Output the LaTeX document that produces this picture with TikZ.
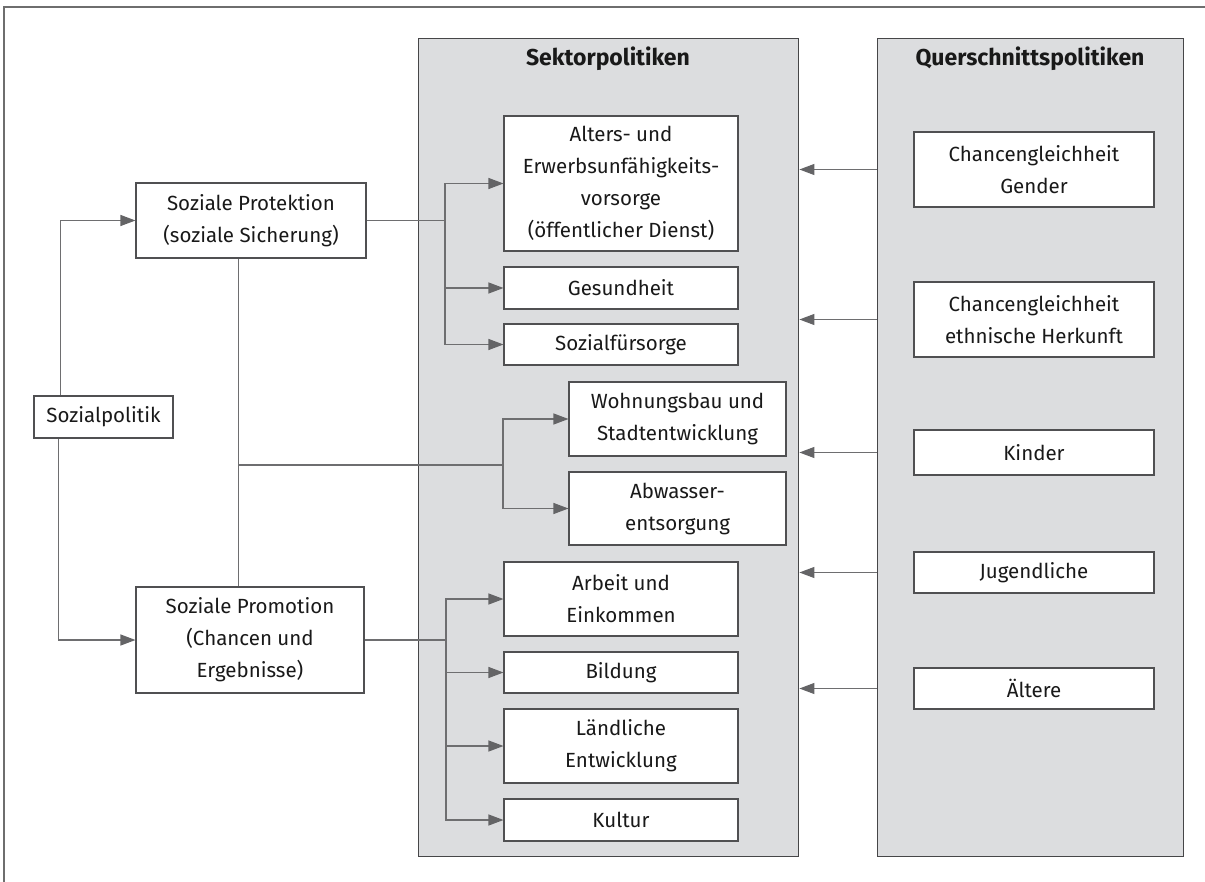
\documentclass[tikz,border=0pt]{standalone}
\usepackage{fontspec}
\setmainfont{Fira Sans}
\usetikzlibrary{arrows.meta}
\definecolor{panelf}{RGB}{220,221,223}
\definecolor{panelb}{RGB}{70,70,72}
\definecolor{boxc}{RGB}{80,80,82}
\definecolor{linec}{RGB}{110,110,112}
\definecolor{arrc}{RGB}{100,100,102}
\definecolor{txt}{RGB}{25,25,25}
\definecolor{framec}{RGB}{110,110,110}
\begin{document}
\begin{tikzpicture}[x=1pt,y=-1pt,
  box/.style={draw=boxc, fill=white, line width=1.1pt, align=center, inner sep=0pt,
    font=\fontsize{20.5}{32}\selectfont, text=txt},
  panel/.style={draw=panelb, fill=panelf, line width=1.4pt, inner sep=0pt, anchor=north west},
  ttl/.style={font=\bfseries\fontsize{23}{26}\selectfont, text=txt},
  conn/.style={draw=linec, line width=1.1pt},
  arr/.style={conn, -{Triangle[length=15pt,width=11pt,color=arrc]}}
]
\useasboundingbox (0,0) rectangle (1205,882);
\draw[framec, line width=1.2pt] (4,882) -- (4,7) -- (1205,7);

% panels
\node[panel, minimum width=380pt, minimum height=818pt] (sek) at (418,38) {};
\node[panel, minimum width=306pt, minimum height=818pt] (que) at (877,38) {};
\node[ttl] (sekt) at (608,59) {Sektorpolitiken};
\node[ttl] (quet) at (1030,59) {Querschnittspolitiken};

% sector boxes
\node[box, minimum width=234pt, minimum height=135pt] (alt) at (621,183.5) {Alters- und\\Erwerbsunfähigkeits-\\vorsorge\\(öffentlicher Dienst)};
\node[box, minimum width=234pt, minimum height=42pt] (ges) at (621,288) {Gesundheit};
\node[box, minimum width=234pt, minimum height=41pt] (soz) at (621,344.5) {Sozialfürsorge};
\node[box, minimum width=217pt, minimum height=74pt] (woh) at (677.5,419) {Wohnungsbau und\\Stadtentwicklung};
\node[box, minimum width=217pt, minimum height=73pt] (abw) at (677.5,508.5) {Abwasser-\\entsorgung};
\node[box, minimum width=234pt, minimum height=74pt] (arb) at (621,599) {Arbeit und\\Einkommen};
\node[box, minimum width=234pt, minimum height=41pt] (bil) at (621,672.5) {Bildung};
\node[box, minimum width=234pt, minimum height=74pt] (lae) at (621,746) {Ländliche\\Entwicklung};
\node[box, minimum width=234pt, minimum height=42pt] (kul) at (621,820) {Kultur};

% cross-cutting boxes
\node[box, minimum width=240pt, minimum height=75pt] (gen) at (1034,169.5) {Chancengleichheit\\Gender};
\node[box, minimum width=240pt, minimum height=75pt] (eth) at (1034,319.5) {Chancengleichheit\\ethnische Herkunft};
\node[box, minimum width=240pt, minimum height=45pt] (kin) at (1034,452.5) {Kinder};
\node[box, minimum width=240pt, minimum height=41pt] (jug) at (1034,572.5) {Jugendliche};
\node[box, minimum width=240pt, minimum height=41pt] (ael) at (1034,688.5) {Ältere};

% left boxes
\node[box, minimum width=139pt, minimum height=42pt] (sp) at (103.5,417) {Sozialpolitik};
\node[box, minimum width=230pt, minimum height=75pt] (pro) at (251,220.5) {Soziale Protektion\\(soziale Sicherung)};
\node[box, minimum width=228pt, minimum height=106pt] (prm) at (250,640) {Soziale Promotion\\(Chancen und\\Ergebnisse)};

% cross arrows
\foreach \n in {gen,eth,kin,jug,ael}
  \draw[arr] (que.west |- \n) -- (sek.east |- \n);

% Sozialpolitik to two branches
\draw[arr] ([xshift=27pt]sp.north west) |- (pro.west);
\draw[arr] ([xshift=25pt]sp.south west) |- (prm.west);

% vertical between Protektion and Promotion
\coordinate (vtop) at ([xshift=103pt]pro.south west);
\draw[conn] (vtop) -- (vtop |- prm.north);
\coordinate (j2) at (503,465);
\draw[conn] (vtop |- j2) -- (j2);
\draw[arr] (j2) |- (woh.west);
\draw[arr] (j2) |- (abw.west);

% Protektion branch
\coordinate (j1) at (445,220.5);
\draw[conn] (pro.east) -- (j1);
\draw[arr] (j1) |- (alt.west);
\draw[arr] (j1) |- (ges.west);
\draw[arr] (j1) |- (soz.west);

% Promotion branch
\coordinate (j3) at (446,640);
\draw[conn] (prm.east) -- (j3);
\draw[arr] (j3) |- (arb.west);
\draw[arr] (j3) |- (bil.west);
\draw[arr] (j3) |- (lae.west);
\draw[arr] (j3) |- (kul.west);
\end{tikzpicture}
\end{document}
